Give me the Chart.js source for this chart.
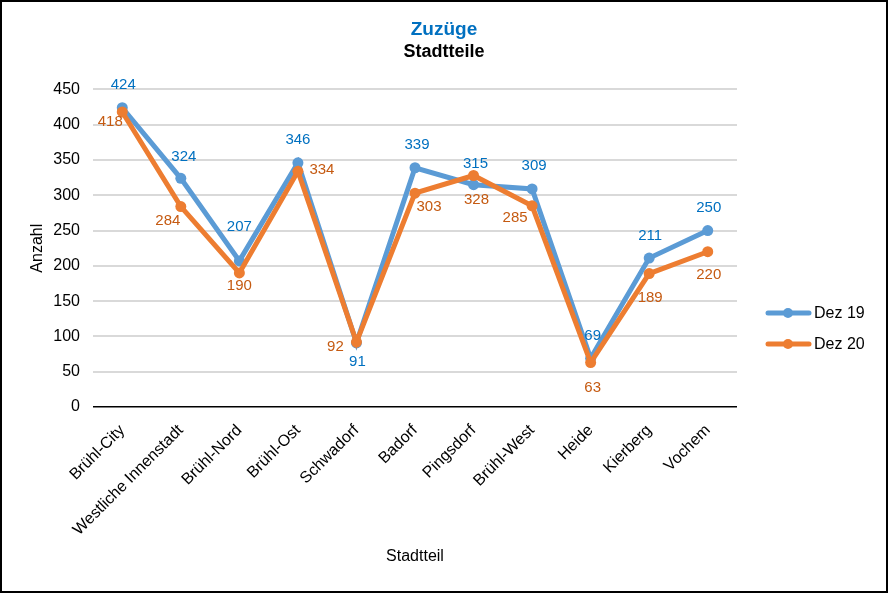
<!DOCTYPE html>
<html>
<head>
<meta charset="utf-8">
<script src="https://cdn.jsdelivr.net/npm/chart.js@4"></script>
<style>
  html, body { margin: 0; padding: 0; background: #fff; }
  #wrap { width: 888px; height: 593px; position: relative; }
</style>
</head>
<body>
<div id="wrap"><canvas id="zuzuegeChart" width="888" height="593"></canvas></div>
<script>
// Stadtteile (categories)
const stadtteile = ['Brühl-City', 'Westliche Innenstadt', 'Brühl-Nord', 'Brühl-Ost', 'Schwadorf',
    'Badorf', 'Pingsdorf', 'Brühl-West', 'Heide', 'Kierberg', 'Vochem'];

// Zuzüge per series
const dez19 = [424, 324, 207, 346, 91, 339, 315, 309, 69, 211, 250];
const dez20 = [418, 284, 190, 334, 92, 303, 328, 285, 63, 189, 220];

const seriesNames = ['Dez 19', 'Dez 20'];
const yTicks = { min: 0, max: 450, step: 50 };

// label offsets relative to the point (where Excel placed them)
const labelOffsets19 = [[1, -23], [3, -21], [0, -34], [0, -23], [1, 19], [2, -23], [2, -21], [2, -23], [2, -22], [1, -22], [1, -23]];
const labelOffsets20 = [[-12, 10], [-13, 14], [0, 13], [24, -1], [-21, 5], [14, 14], [3, 24], [-17, 12], [2, 25], [1, 24], [1, 23]];

const FONT = 'Liberation Sans, Arial, sans-serif';
Chart.defaults.font.family = FONT;
Chart.defaults.color = '#000';

const blue = '#5b9bd5';
const orange = '#ed7d31';

// Draw value labels next to each point
const valueLabels = {
    id: 'valueLabels',
    afterDatasetsDraw(chart) {
        const ctx = chart.ctx;
        const setups = [
            { idx: 0, color: '#0070c0', offs: labelOffsets19 },
            { idx: 1, color: '#c55a11', offs: labelOffsets20 }
        ];
        ctx.save();
        ctx.font = '15px ' + FONT;
        ctx.textAlign = 'center';
        ctx.textBaseline = 'middle';
        setups.forEach(s => {
            const meta = chart.getDatasetMeta(s.idx);
            const values = chart.data.datasets[s.idx].data;
            ctx.fillStyle = s.color;
            meta.data.forEach((pt, i) => {
                const o = s.offs[i];
                ctx.fillText(String(values[i]), pt.x + o[0], pt.y + o[1]);
            });
        });
        ctx.restore();
    }
};

// Legend on the right (line with marker) and the outer frame
const sideLegend = {
    id: 'sideLegend',
    afterDraw(chart) {
        const ctx = chart.ctx;
        ctx.save();
        chart.data.datasets.forEach((ds, i) => {
            const y = 313 + i * 31;
            ctx.strokeStyle = ds.borderColor;
            ctx.lineWidth = 5;
            ctx.lineCap = 'round';
            ctx.beginPath();
            ctx.moveTo(768, y);
            ctx.lineTo(809, y);
            ctx.stroke();
            ctx.fillStyle = ds.borderColor;
            ctx.beginPath();
            ctx.arc(788, y, 5, 0, Math.PI * 2);
            ctx.fill();
            ctx.fillStyle = '#000';
            ctx.font = '16px ' + FONT;
            ctx.textAlign = 'left';
            ctx.textBaseline = 'middle';
            ctx.fillText(ds.label, 814, y + 1);
        });
        ctx.strokeStyle = '#000';
        ctx.lineWidth = 2;
        ctx.strokeRect(1, 1, chart.width - 2, chart.height - 2);
        ctx.restore();
    }
};

const ctx = document.getElementById('zuzuegeChart').getContext('2d');
const zuzuegeChart = new Chart(ctx, {
    type: 'line',
    data: {
        labels: stadtteile,
        datasets: [{
            label: seriesNames[0],
            data: dez19,
            borderColor: blue,
            backgroundColor: blue,
            borderWidth: 5,
            pointRadius: 5.5,
            pointBorderWidth: 0,
            pointBackgroundColor: blue,
            tension: 0,
            order: 1
        }, {
            label: seriesNames[1],
            data: dez20,
            borderColor: orange,
            backgroundColor: orange,
            borderWidth: 5,
            pointRadius: 5.5,
            pointBorderWidth: 0,
            pointBackgroundColor: orange,
            tension: 0,
            order: 0
        }]
    },
    options: {
        responsive: false,
        animation: false,
        layout: { padding: 0 },
        plugins: {
            legend: { display: false },
            tooltip: { enabled: false },
            title: {
                display: true,
                text: 'Zuzüge',
                color: '#0070c0',
                font: { size: 19, weight: 'bold' },
                padding: { top: 18, bottom: 0 }
            },
            subtitle: {
                display: true,
                text: 'Stadtteile',
                color: '#000',
                font: { size: 18, weight: 'bold' },
                padding: { top: 0, bottom: 27 }
            }
        },
        scales: {
            x: {
                offset: true,
                grid: { display: false },
                border: { display: false },
                ticks: {
                    color: '#000',
                    font: { size: 16 },
                    maxRotation: 45,
                    minRotation: 45,
                    autoSkip: false,
                    padding: 6
                },
                title: {
                    display: true,
                    text: 'Stadtteil',
                    color: '#000',
                    font: { size: 16 },
                    padding: { top: 0, bottom: 27 }
                },
                afterFit: s => { s.height = 186; }
            },
            y: {
                min: yTicks.min,
                max: yTicks.max,
                border: { display: false },
                grid: {
                    drawTicks: false,
                    color: c => c.tick && c.tick.value === 0 ? '#000' : '#d9d9d9',
                    lineWidth: c => c.tick && c.tick.value === 0 ? 1.5 : 2
                },
                ticks: {
                    stepSize: yTicks.step,
                    color: '#000',
                    font: { size: 16 },
                    padding: 13
                },
                title: {
                    display: true,
                    text: 'Anzahl',
                    color: '#000',
                    font: { size: 16 },
                    padding: { top: 28, bottom: 0 }
                },
                afterFit: s => { s.width = 93; }
            },
            // empty right-hand axis that reserves room for the legend
            legendSpace: {
                position: 'right',
                min: yTicks.min,
                max: yTicks.max,
                grid: { display: false, drawTicks: false },
                border: { display: false },
                ticks: { display: false },
                afterFit: s => { s.width = 151; }
            }
        }
    },
    plugins: [valueLabels, sideLegend]
});
</script>
</body>
</html>
